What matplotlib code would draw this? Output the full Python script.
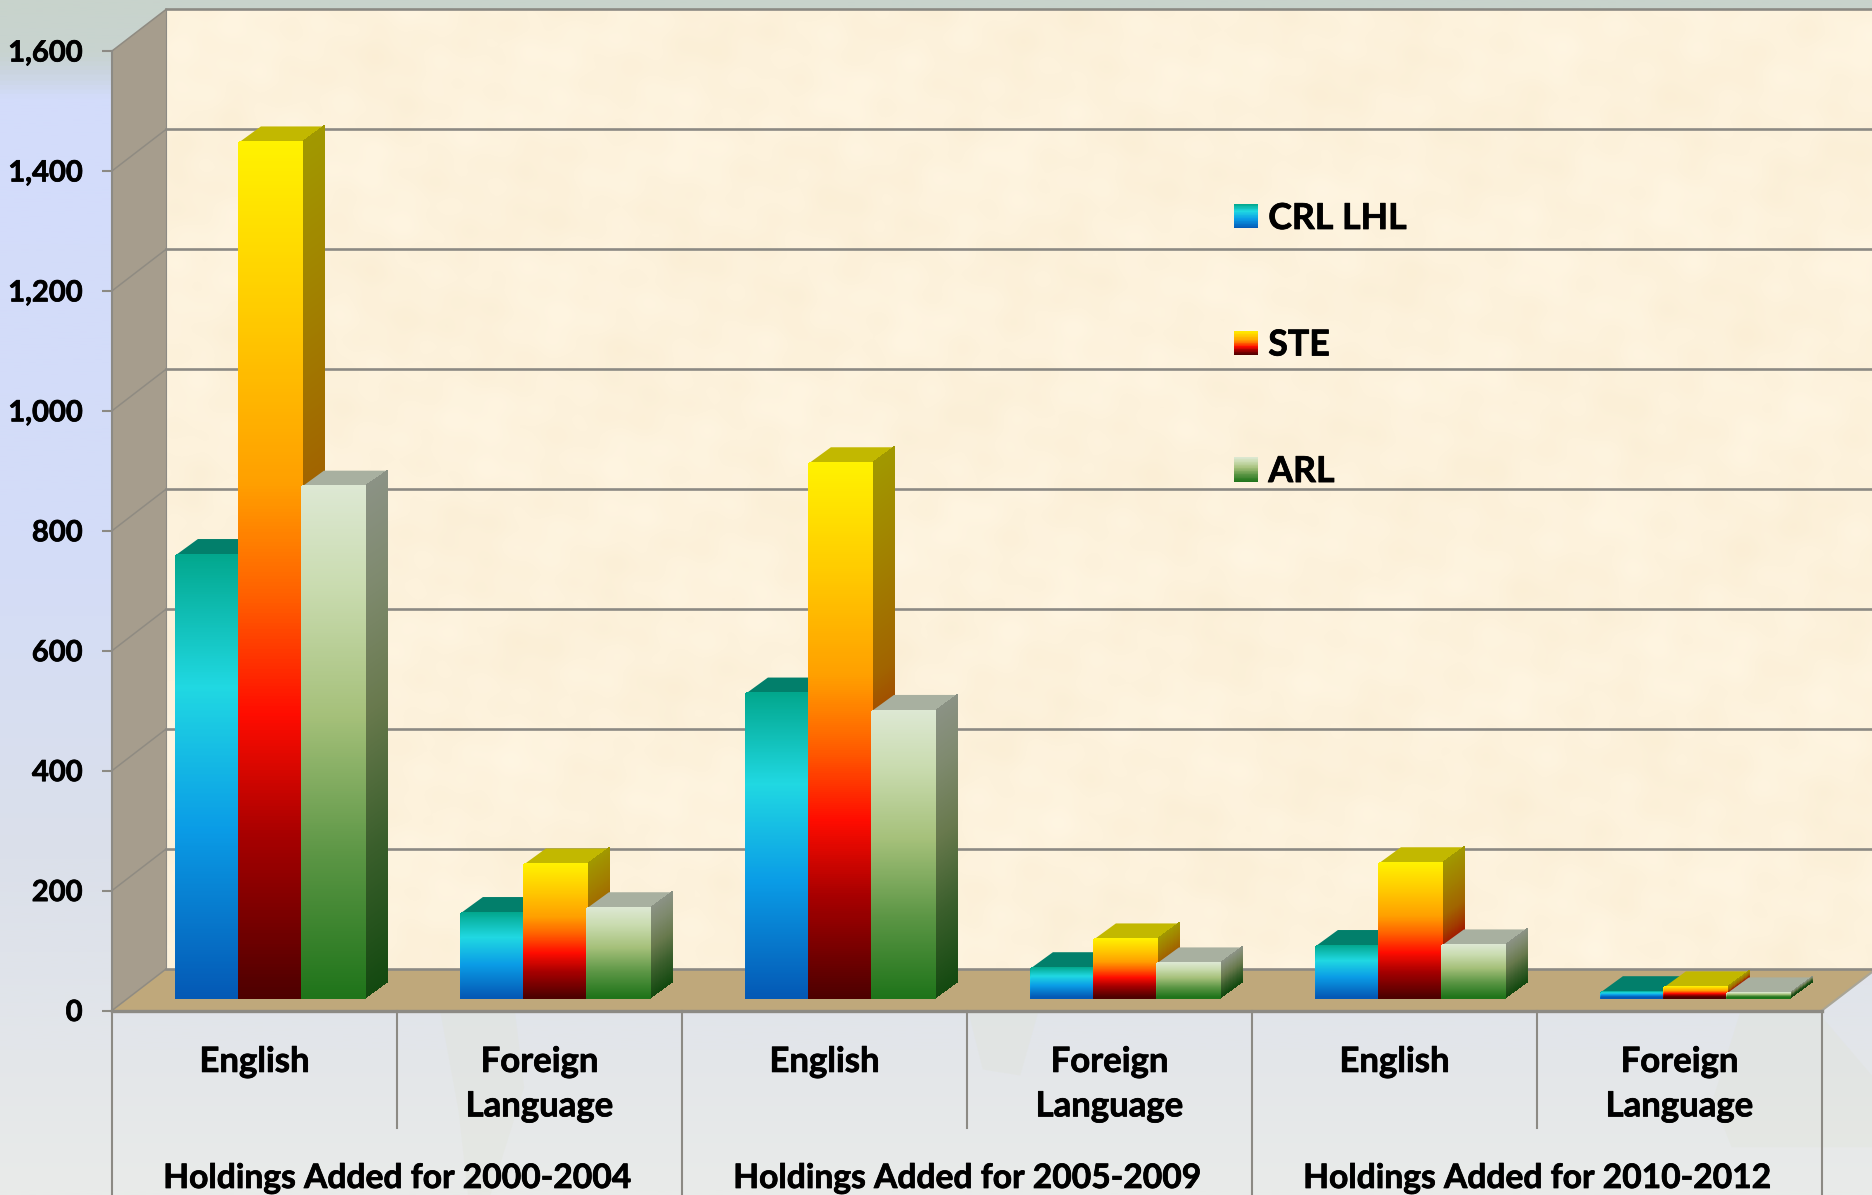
import numpy as np
import matplotlib
matplotlib.use("Agg")
import matplotlib.pyplot as plt
import matplotlib.patheffects as pe
from matplotlib.colors import LinearSegmentedColormap, to_rgb
from matplotlib.legend_handler import HandlerBase
from matplotlib.patches import Patch, Polygon, Rectangle

plt.rcParams["font.family"] = ["Lato", "DejaVu Sans"]
plt.rcParams["font.weight"] = "bold"

# ---- data ----
categories = ["English", "Foreign\nLanguage"] * 3
periods = ["Holdings Added for 2000-2004", "Holdings Added for 2005-2009", "Holdings Added for 2010-2012"]
crl_lhl = [739, 142, 508, 50, 87, 10]
ste = [1427, 223, 892, 98, 225, 18]
arl = [853, 150, 479, 58, 88, 8]
series_names = ["CRL LHL", "STE", "ARL"]
yticks = [0, 200, 400, 600, 800, 1000, 1200, 1400, 1600]

# ---- style ----
W, H = 1872, 1195
AX_L, AX_R, AX_B, AX_T = 112, 1822, 1010.5, 51
PX_X = (AX_R - AX_L) / 6
PX_Y = (AX_B - AX_T) / 1600
WALL_DX, WALL_DY = 54 / PX_X, 41.5 / PX_Y
BAR_DX, BAR_DY = 21.7 / PX_X, 15.8 / PX_Y
BASE_DX, BASE_DY = 16.2 / PX_X, 12.5 / PX_Y
BAR_W = 63.0 / PX_X

cmaps = [
    LinearSegmentedColormap.from_list("crl", [(0, "#02a78d"), (.3, "#20d8e2"), (.62, "#0a9ce6"), (1, "#0459b5")]),
    LinearSegmentedColormap.from_list("ste", [(0, "#fff200"), (.2, "#ffcb00"), (.4, "#ff9f00"), (.53, "#ff6000"),
                                              (.67, "#ff0c00"), (.81, "#a80000"), (1, "#4e0000")]),
    LinearSegmentedColormap.from_list("arl", [(0, "#dde8d3"), (.2, "#c9dbaf"), (.45, "#a5c07a"), (.72, "#5c9645"),
                                              (1, "#1f741a")]),
]
SIDE_SHADE, TOP_SHADE = 0.63, 0.76
GRID = "#8c8a84"
LW = 1.5
HEAVY = [pe.withStroke(linewidth=.55, foreground="black")]

fig = plt.figure(figsize=(W / 100, H / 100), dpi=100)

# page background
bg = fig.add_axes([0, 0, 1, 1], zorder=0)
bg.axis("off")
bg_cmap = LinearSegmentedColormap.from_list("bg", [(0, "#c8d3cc"), (.042, "#c8d3d0"), (.059, "#cbd5e0"), (.08, "#d3dcfb"),
                                                   (.45, "#d3dcf8"), (.72, "#dbe0ea"), (.88, "#e3e6ea"), (1, "#e9ebe9")])
bg.imshow(np.linspace(0, 1, 800)[:, None], cmap=bg_cmap, aspect="auto", extent=[0, 1, 0, 1], vmin=0, vmax=1)
# faint map silhouettes behind the lower labels (decoration)
for shape in ([(.235, .155), (.275, .155), (.28, .09), (.262, 0), (.25, 0), (.245, .07)],
              [(.517, .155), (.555, .155), (.545, .10), (.525, .105)],
              [(.93, .155), (.97, .155), (1, .10), (1, .04), (.925, .04), (.915, .08)]):
    bg.add_patch(Polygon(shape, closed=True, fc="#dfe2d4", ec="none", alpha=.28, transform=bg.transAxes))

ax = fig.add_axes([AX_L / W, 1 - AX_B / H, (AX_R - AX_L) / W, (AX_B - AX_T) / H], zorder=1)
ax.patch.set_alpha(0)

# soft parchment texture for walls (pure decoration)
yy, xx = np.mgrid[0:240, 0:460]
tex = (np.sin(xx * .071 + 1.3 * np.sin(yy * .043)) * np.sin(yy * .113 + 1.1 * np.sin(xx * .057))
       + .7 * np.sin(xx * .19 + yy * .13 + 2 * np.sin(xx * .031)) * np.sin(yy * .23 - xx * .07)
       + .5 * np.sin(xx * .37 - yy * .29) * np.sin(yy * .41 + xx * .17))
tex = tex / np.abs(tex).max()
wall = np.clip(np.array(to_rgb("#fdf2dc"))[None, None, :] + tex[..., None] * np.array([.008, .014, .025]), 0, 1)
ax.imshow(wall, extent=[WALL_DX, 6 + WALL_DX, WALL_DY, 1600 + WALL_DY], aspect="auto", zorder=1, clip_on=False,
          interpolation="bilinear")

ax.add_patch(Polygon([(0, 0), (WALL_DX, WALL_DY), (WALL_DX, 1600 + WALL_DY), (0, 1600)],
                     closed=True, fc="#a69d8d", ec="none", zorder=1.5, clip_on=False))
ax.add_patch(Polygon([(0, 0), (6, 0), (6 + WALL_DX, WALL_DY), (WALL_DX, WALL_DY)],
                     closed=True, fc="#bfa87b", ec="none", zorder=1.5, clip_on=False))

for v in yticks:
    ax.plot([WALL_DX, 6 + WALL_DX], [v + WALL_DY, v + WALL_DY], color=GRID, lw=1.9, zorder=2, clip_on=False)
    ax.plot([0, WALL_DX], [v, v + WALL_DY], color="#8f8b82", lw=1.1, zorder=2, clip_on=False)
ax.plot([WALL_DX, WALL_DX], [0 + WALL_DY, 1600 + WALL_DY], color=GRID, lw=.8, zorder=2, clip_on=False)
ax.plot([6, 6 + WALL_DX], [0, WALL_DY], color="#a9a596", lw=LW, zorder=2, clip_on=False)


def shade(cmap, t, f):
    return np.clip(np.asarray(cmap(t))[..., :3] * f, 0, 1)


def draw_bar(x0, v, cmap, z):
    x1 = x0 + BAR_W
    b = BASE_DY
    t = np.linspace(0, 1, 257)                 # 0 = top of the bar
    ys = v * (1 - t) + b
    tc = (t[:-1] + t[1:]) / 2
    # top
    ax.add_patch(Polygon([(x0, v + b), (x1, v + b), (x1 + BAR_DX, v + b + BAR_DY), (x0 + BAR_DX, v + b + BAR_DY)],
                         closed=True, fc=tuple(shade(cmap, 0.0, TOP_SHADE)), ec="none", zorder=z, clip_on=False))
    # side
    X = np.column_stack([np.full_like(ys, x1), np.full_like(ys, x1 + BAR_DX)])
    Y = np.column_stack([ys, ys + BAR_DY])
    ax.pcolormesh(X, Y, shade(cmap, tc, SIDE_SHADE)[:, None, :], shading="flat", zorder=z, clip_on=False,
                  edgecolors="face", linewidth=.1)
    # front
    X = np.column_stack([np.full_like(ys, x0), np.full_like(ys, x1)])
    Y = np.column_stack([ys, ys])
    ax.pcolormesh(X, Y, shade(cmap, tc, 1.0)[:, None, :], shading="flat", zorder=z + .1, clip_on=False,
                  edgecolors="face", linewidth=.1)


centers = np.arange(6) + .5
series = [crl_lhl, ste, arl]
for c, i in zip(centers, range(6)):
    x_start = c + BASE_DX - 1.5 * BAR_W
    for s, vals in enumerate(series):
        draw_bar(x_start + s * BAR_W, vals[i], cmaps[s], 3 + s)

# axes furniture
ax.set_xlim(0, 6)
ax.set_ylim(0, 1600)
for sp in ["top", "right"]:
    ax.spines[sp].set_visible(False)
for sp in ["left", "bottom"]:
    ax.spines[sp].set_color(GRID)
    ax.spines[sp].set_linewidth(LW)
    ax.spines[sp].set_zorder(8)
ax.spines["bottom"].set_linewidth(2.4)
ax.set_yticks(yticks, [f"{v:,}" for v in yticks])
ax.tick_params(axis="y", length=7.2, width=LW, color=GRID, pad=14, labelsize=21, labelcolor="black")
ax.set_xticks(centers, categories)
ax.tick_params(axis="x", length=0, pad=25.5, labelsize=25, labelcolor="black")
for lab in ax.get_xticklabels():
    lab.set_linespacing(1.48)
    lab.set_path_effects(HEAVY)
for lab in ax.get_yticklabels():
    lab.set_path_effects(HEAVY)

y_bottom = (AX_B - H) / PX_Y
y_short = (AX_B - 1128) / PX_Y
for x, low in zip(range(7), [y_bottom if k % 2 == 0 else y_short for k in range(7)]):
    ax.plot([x, x], [0, low], color=GRID, lw=LW, clip_on=False, zorder=2)
for k, label in enumerate(periods):
    ax.text(1 + 2 * k, (AX_B - 1178) / PX_Y, label, ha="center", va="center", fontsize=24.2, color="black",
            clip_on=False, path_effects=HEAVY)


# legend with gradient swatches
class GradientHandler(HandlerBase):
    def __init__(self, cmap):
        super().__init__()
        self.cmap = cmap

    def create_artists(self, legend, orig, xd, yd, width, height, fontsize, trans):
        n = 32
        side = 17.3
        out = []
        for j in range(n):
            r = Rectangle((-xd, -yd + height / 2 - side / 2 + side * (1 - (j + 1) / n)), side, side / n + .2,
                          fc=self.cmap((j + .5) / n), ec="none", transform=trans)
            out.append(r)
        return out


handles = [Patch(label=n) for n in series_names]
leg = ax.legend(handles=handles, handler_map={h: GradientHandler(cm) for h, cm in zip(handles, cmaps)},
                loc="upper left", bbox_to_anchor=(1234 / W, 1 - 202 / H), bbox_transform=fig.transFigure,
                frameon=False, fontsize=25.7, handlelength=.67, handleheight=.67, handletextpad=.29,
                labelspacing=2.62, borderpad=0, borderaxespad=0)
leg.set_zorder(9)
for txt in leg.get_texts():
    txt.set_path_effects(HEAVY)

fig.savefig("out.png", dpi=100)
